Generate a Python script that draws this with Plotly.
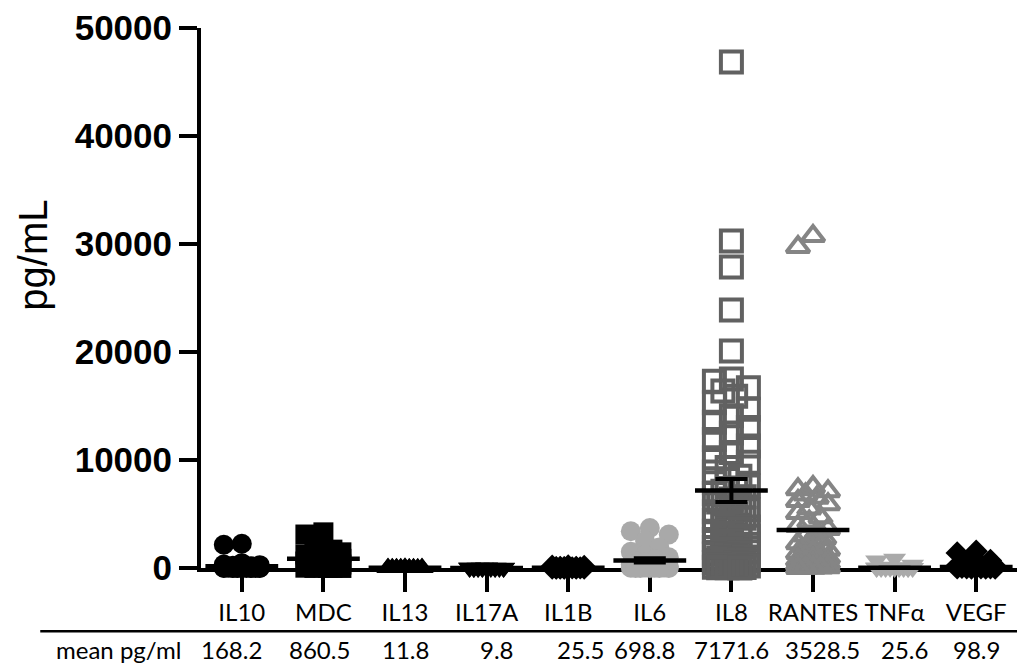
import math
import plotly.graph_objects as go

# ---------------- data ----------------
categories = ["IL10", "MDC", "IL13", "IL17A", "IL1B", "IL6", "IL8", "RANTES", "TNFα", "VEGF"]
mean_labels = ["168.2", "860.5", "11.8", "9.8", "25.5", "698.8", "7171.6", "3528.5", "25.6", "98.9"]
means = [168.2, 860.5, 11.8, 9.8, 25.5, 698.8, 7171.6, 3528.5, 25.6, 98.9]
sem = [0, 150, 0, 0, 0, 200, 1060, 0, 0, 0]
y_ticks = [0, 10000, 20000, 30000, 40000, 50000]

il10 = [2250, 2150, 450, 320, 260, 210, 170, 140, 120, 100, 80, 65, 50, 40, 30, 25, 20, 15,
        10, 8, 6, 5, 4, 3, 2, 1]
mdc = [3300, 3100, 1700, 1550, 1450, 1350, 1250, 1100, 950, 850, 700, 600, 500, 400, 320,
       250, 180, 120, 80, 50, 30, 20, 10, 5, 2]
il13 = [60, 45, 35, 25, 20, 15, 12, 10, 8, 6, 5, 4, 3, 2, 1, 1, 0, 0]
il17a = [55, 40, 30, 22, 16, 12, 9, 7, 5, 4, 3, 2, 1, 1, 0, 0]
il1b = [190, 170, 150, 60, 40, 30, 22, 15, 10, 7, 5, 3, 2, 1, 0, 0]
il6 = [3700, 3400, 3100, 2500, 1900, 1500, 1200, 1000, 800, 650, 500, 400, 320, 260, 200,
       160, 120, 90, 70, 50, 35, 25, 15, 10, 5, 3, 2, 1]
il8 = [46850, 30280, 27870, 23890, 20090,
       17500, 17300, 16700, 16400, 15900, 15300, 14700, 14100, 13500, 13000, 12500, 11900,
       11300, 10700, 10200, 9800, 9300, 8900, 8500,
       8200, 7900, 7600, 7400, 7100, 6900, 6600, 6400, 6100, 5900, 5600, 5400, 5200, 5000,
       4800, 4600, 4400, 4200, 4000, 3800, 3600, 3400, 3250, 3100, 2950, 2800, 2650, 2500,
       2350, 2200, 2050, 1900, 1750, 1600, 1500, 1400, 1300, 1200, 1100, 1000, 900, 820,
       740, 660, 580, 500, 440, 380, 320, 270, 220, 180, 140, 110, 80, 60, 40, 25, 15, 5]
rantes = [30740, 29720,
          7500, 7300, 7100, 6800, 6500, 6200, 5900, 5500, 5100, 4700, 4300, 3900, 3600, 3300,
          3000, 2750, 2500, 2300, 2100, 1900, 1700, 1550, 1400, 1250, 1100, 980, 860, 750,
          650, 560, 480, 400, 330, 270, 210, 160, 120, 80, 50, 30, 15, 5]
tnfa = [850, 700, 300, 120, 60, 40, 25, 15, 10, 8, 5, 3, 2, 1, 0, 0]
vegf = [1550, 1400, 700, 450, 300, 220, 160, 110, 80, 60, 40, 30, 20, 12, 8, 5, 3, 1]

series = [il10, mdc, il13, il17a, il1b, il6, il8, rantes, tnfa, vegf]

# ---------------- styles ----------------
symbols = ["circle", "square", "triangle-up", "triangle-down", "diamond", "circle",
           "square-open", "triangle-up-open", "triangle-down", "diamond"]
colors = ["#000000", "#000000", "#000000", "#000000", "#000000", "#a9a9a9",
          "#616161", "#858585", "#aaaaaa", "#000000"]
sizes = [20, 20, 20, 20, 18, 20, 21, 20, 20, 18]
line_widths = [0, 0, 0, 0, 0, 0, 4, 4, 0, 0]
half_spread = [18, 18, 17, 17, 16, 19, 17, 15, 18, 19]
mean_label_shift = [-10, -4, 0, 10, 12, -5, 0, 9, 10, 0]

W, H = 1017, 663
ML, MR, MT, MB = 201, 0, 28, 95
X_RANGE = [-0.5, 9.5]
Y_RANGE = [0, 50000]
px_per_cat = (W - ML - MR) / (X_RANGE[1] - X_RANGE[0])
px_per_val = (H - MT - MB) / (Y_RANGE[1] - Y_RANGE[0])


def swarm(values, diam, max_half):
    """Deterministic beeswarm offsets (in category units)."""
    step = max_half / 4.0
    cands = [0.0]
    k = 1
    while k * step <= max_half + 1e-9:
        cands += [-k * step, k * step]
        k += 1
    order = sorted(range(len(values)), key=lambda i: -values[i])
    placed = []
    offs = [0.0] * len(values)
    for i in order:
        y = values[i] * px_per_val
        best, bestd = 0.0, -1.0
        for c in cands:
            dmin = min((math.hypot(c - px, y - py) for px, py in placed), default=1e9)
            if dmin >= diam * 0.9:
                best = c
                break
            if dmin > bestd:
                bestd, best = dmin, c
        placed.append((best, y))
        offs[i] = best / px_per_cat
    return offs


fig = go.Figure()

for idx, vals in enumerate(series):
    offs = swarm(vals, sizes[idx] + line_widths[idx], half_spread[idx])
    fig.add_trace(go.Scatter(
        x=[idx + o for o in offs], y=vals, mode="markers",
        name=categories[idx], cliponaxis=False, hoverinfo="y+name",
        marker=dict(symbol=symbols[idx], size=sizes[idx], color=colors[idx],
                    line=dict(width=line_widths[idx], color=colors[idx])),
    ))

# mean lines with SEM
fig.add_trace(go.Scatter(
    x=list(range(len(categories))), y=means, mode="markers", cliponaxis=False,
    name="mean", hoverinfo="y",
    marker=dict(symbol="line-ew", size=52, color="black",
                line=dict(width=4.5, color="black")),
    error_y=dict(type="data", array=sem, visible=True, color="black",
                 thickness=4, width=16),
))

fig.update_layout(
    width=W, height=H,
    margin=dict(l=ML, r=MR, t=MT, b=MB),
    plot_bgcolor="white", paper_bgcolor="white",
    showlegend=False,
    xaxis=dict(
        range=X_RANGE, tickvals=list(range(len(categories))), ticktext=categories,
        showline=True, linewidth=4, linecolor="black", mirror=False,
        ticks="outside", ticklen=20, tickwidth=4, tickcolor="black",
        showgrid=False, zeroline=False, layer="below traces",
        tickfont=dict(family="Lato", size=24, color="black"),
    ),
    yaxis=dict(
        range=Y_RANGE, tickvals=y_ticks, tickformat="d",
        showline=True, linewidth=4, linecolor="black",
        ticks="outside", ticklen=18, tickwidth=4, tickcolor="black",
        showgrid=False, zeroline=False, layer="below traces",
        tickfont=dict(family="Liberation Sans", size=35, color="black", weight="bold"),
    ),
)

# y-axis title
fig.add_annotation(text="pg/mL", xref="paper", yref="paper", x=-0.206, y=0.58,
                   textangle=-90, showarrow=False, xanchor="center", yanchor="middle",
                   font=dict(family="Liberation Sans", size=40, color="black"))

# separator line and mean row
fig.add_shape(type="line", xref="paper", yref="paper", x0=-0.197, x1=1.0,
              y0=-0.117, y1=-0.117, line=dict(color="black", width=2.5))
fig.add_annotation(text="mean pg/ml", xref="paper", yref="paper", x=-0.022, y=-0.15,
                   xanchor="right", yanchor="middle", showarrow=False,
                   font=dict(family="Lato", size=24, color="black"))
for i, lab in enumerate(mean_labels):
    fig.add_annotation(text=lab, xref="x", yref="paper", x=i, y=-0.15,
                       xanchor="center", yanchor="middle", showarrow=False,
                       xshift=mean_label_shift[i],
                       font=dict(family="Lato", size=24, color="black"))

fig.write_html("out.html", config={"displayModeBar": False},
               post_script="document.body.style.margin='0';document.body.style.padding='0';")
